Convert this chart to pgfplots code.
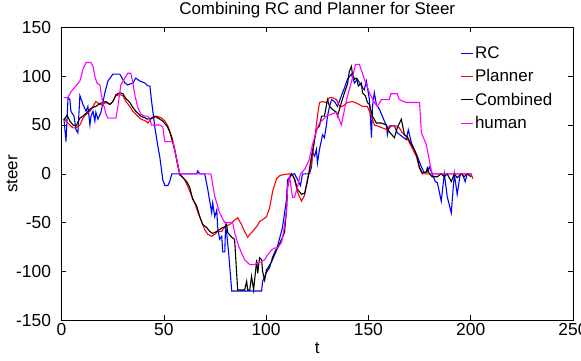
\documentclass[border=0pt]{standalone}
\usepackage{fontspec}
\setmainfont{Liberation Sans}
\usepackage{pgfplots}
\pgfplotsset{compat=1.18}
\definecolor{mblue}{RGB}{0,0,255}
\definecolor{mred}{RGB}{255,0,0}
\definecolor{mmag}{RGB}{255,0,255}
\begin{document}
\begin{tikzpicture}[font=\fontsize{17}{20}\selectfont]
\begin{axis}[
 name=ax,
 scale only axis,
 width=511.5bp, height=293bp,
 xmin=0, xmax=250, ymin=-150, ymax=150,
 xtick={0,50,...,250}, ytick={-150,-100,...,150},
 tick align=inside, major tick length=5bp,
 tick style={black, line width=0.6pt},
 axis line style={line width=0.6pt},
 /pgf/number format/assume math mode=true,
 ticklabel style={font=\fontsize{17.5}{20}\selectfont},
 yticklabel style={xshift=-7bp},
 title={Combining RC and Planner for Steer},
 xlabel={t}, ylabel={steer},
 ylabel style={at={(axis description cs:-0.097,0.5)}, anchor=center},
 every axis plot/.append style={line width=1.1pt},
 legend cell align=left,
 legend style={draw=none, fill=none, at={(0.779,0.941)}, anchor=north west,
   inner sep=0pt, outer sep=0pt, row sep=5.7bp, column sep=0pt,
   font=\fontsize{17}{20}\selectfont},
 legend image code/.code={\draw[#1, line width=1.1pt] (0bp,0bp) -- (12bp,0bp);},
]
\addlegendimage{mblue}
\addlegendentry{RC}
\addlegendimage{mred}
\addlegendentry{Planner}
\addlegendimage{black}
\addlegendentry{Combined}
\addlegendimage{mmag}
\addlegendentry{human}
% RC
\addplot[mblue, forget plot] coordinates {
(1.2,56) (2.2,33) (3.2,78) (4.1,76) (4.6,64) (6.1,59) (7.1,45) (8,42) (9,80) (10.5,71) (12,64) (12.9,69) (13.9,50) (14.4,59) (15.4,64) (16.3,54) (16.8,63) (17.8,56) (19.3,63) (21.2,83) (22.7,95) (25.1,102) (28.5,102) (31,93) (32.4,91) (34.9,93) (36.3,98) (38.3,95) (40.7,93) (42.2,90) (43.2,90) (44.1,73) (45.6,48) (47.1,28) (48,18) (49.5,-6) (50.5,-12) (52,-12) (52.9,-8) (53.9,0) (66.1,0) (66.6,3) (67.6,0) (70,0) (71.5,-16) (73.4,-40) (73.9,-30) (74.9,-44) (75.9,-37) (76.3,-54) (77.3,-67) (78.3,-64) (78.8,-80) (79.8,-80) (80.2,-54) (80.7,-60) (81.7,-81) (83.2,-120) (97.8,-120) (98.3,-110) (100.2,-101) (101.7,-96) (103.2,-85) (105.6,-74) (108,-55) (110,-26) (110.5,-6) (112.4,-1) (113.9,0) (115.4,-6) (116.8,-12) (117.8,0) (121.2,0) (122.2,7) (122.7,22) (123.7,18) (124.6,25) (125.1,11) (126.1,25) (127.1,35) (127.6,40) (128.5,37) (129.5,50) (130,59) (131,69) (132,76) (133.4,74) (134.9,69) (136.8,80) (138.3,88) (139.8,97) (141.7,102) (143.2,93) (144.6,97) (146.6,90) (148,86) (149,95) (150.5,76) (151.5,37) (152,69) (152.9,83) (153.9,71) (155.4,66) (156.8,59) (157.8,54) (158.8,49) (159.3,40) (160.2,49) (162.7,49) (164.1,42) (166.6,38) (168.5,35) (169.5,45) (171,32) (172.4,25) (173.9,18) (175.9,7) (177.3,1) (178.8,2) (179.8,7) (181.2,0) (182.7,-8) (183.7,-9) (185.6,-28) (187.1,0) (188.5,-23) (190.5,-40) (192,0) (193.4,-21) (194.9,0) (195.9,0) (197.3,-8) (198.3,0) (199.8,0)
};
% Planner
\addplot[mred, forget plot] coordinates {
(1.2,57) (2.2,54) (4.1,50) (5.6,47) (7.1,47) (9,50) (10.5,57) (12,61) (13.9,64) (15.4,69) (16.8,74) (18.8,71) (20.2,71) (21.7,73) (23.7,71) (25.1,74) (26.6,80) (28.5,81) (30,80) (31.5,74) (33.4,69) (34.9,64) (36.3,61) (38.8,56) (41.2,54) (42.2,52) (44.1,57) (46.6,59) (49,57) (50.5,54) (52,49) (53.9,38) (55.4,25) (56.8,8) (57.8,0) (60.2,-6) (61.7,-13) (63.7,-23) (65.1,-30) (66.6,-39) (68.5,-49) (70,-57) (71.5,-62) (73.4,-64) (74.9,-62) (76.3,-59) (78.3,-59) (79.8,-54) (82.2,-52) (83.7,-49) (86.1,-45) (88,-52) (89.5,-59) (91,-65) (92,-62) (93.4,-59) (95.4,-54) (96.8,-49) (98.3,-47) (100.2,-44) (101.7,-35) (103.2,-18) (105.1,-5) (106.6,-2) (108,-1) (111.5,0) (112.9,-1) (113.9,-6) (115.4,-19) (117.3,-28) (118.8,-22) (120.2,-5) (122.2,10) (123.7,35) (125.1,59) (126.1,73) (127.6,74) (129.5,73) (131,78) (132.4,78) (134.4,76) (135.9,69) (137.3,69) (139.8,73) (142.2,74) (144.6,72) (147.1,69) (149.5,69) (151.5,59) (152.9,50) (154.4,49) (156.8,47) (159.3,45) (161.2,49) (163.7,49) (165.1,47) (166.6,42) (168.5,38) (171,28) (173.4,18) (174.9,6) (176.3,0) (200.2,0) (201,-5)
};
% Combined
\addplot[black, forget plot] coordinates {
(1.2,55) (2.7,60) (4.1,54) (5.6,50) (7.1,49) (9,57) (10.5,59) (12,62) (13.9,66) (15.4,68) (16.8,69) (18.8,72) (20.2,73) (21.7,74) (23.7,71) (25.1,74) (26.6,81) (28.5,83) (30,82) (31.5,77) (33.4,73) (34.9,68) (36.3,64) (38.8,59) (41.2,57) (41.7,56) (44.1,57) (45.6,59) (48,56) (49.5,54) (51.5,49) (52.9,43) (54.4,32) (56.3,15) (57.8,-1) (59.3,-4) (61.2,-8) (62.7,-14) (64.1,-26) (66.1,-33) (67.6,-44) (69,-52) (71,-55) (72.4,-59) (73.9,-61) (75.9,-59) (77.3,-57) (78.8,-55) (80.2,-54) (80.7,-52) (81.2,-60) (83.2,-65) (84.6,-67) (86.1,-119) (89.5,-119) (90.5,-110) (91,-119) (92,-119) (92.9,-105) (93.9,-119) (95.4,-88) (95.9,-102) (96.8,-86) (97.8,-88) (98.3,-100) (99.3,-109) (100.2,-98) (100.7,-97) (102.7,-90) (104.1,-83) (105.6,-76) (107.6,-67) (109,-60) (110,-37) (110.5,-14) (111.5,-4) (112.4,0) (113.9,-5) (115.4,-16) (117.3,-21) (118.8,-20) (120.2,-8) (122.2,18) (123.7,35) (124.6,45) (126.1,49) (127.1,59) (128.5,59) (130,76) (131,69) (132.4,66) (134.4,63) (134.9,59) (136.8,73) (138.3,83) (139.8,92) (140.7,105) (141.7,110) (142.2,102) (143.2,97) (144.1,98) (145.1,90) (146.6,93) (147.1,83) (148.5,80) (149.5,73) (150.5,71) (152,59) (153.9,52) (156.3,52) (158.8,50) (160.2,43) (162.7,37) (164.1,47) (166.1,56) (167.6,40) (169,38) (171,30) (172.4,25) (173.9,17) (174.9,7) (176.3,1) (178.3,2) (178.8,6) (179.8,0) (181.2,-3) (183.7,-3) (185.6,0) (187.1,-3) (188.5,0) (190.5,-8) (192,0) (193.4,-4) (195.4,0) (196.8,-3) (198.3,0) (200.2,-3)
};
% human
\addplot[mmag, forget plot] coordinates {
(1,78) (3.2,78) (4.6,84) (7.1,90) (9,95) (10.5,107) (12,114) (14.4,114) (15.4,110) (16.3,100) (17.3,93) (18.8,91) (19.3,83) (20.2,73) (21.2,66) (21.7,61) (22.7,57) (26.6,57) (27.5,68) (29,91) (31,98) (32.4,103) (33.9,103) (34.9,93) (35.9,80) (37.3,68) (38.8,61) (40.7,59) (42.2,59) (43.2,55) (44,50) (48,50) (49.5,48) (50.5,33) (54.5,33) (57.8,0) (73,0) (74.9,-23) (77.3,-40) (79.8,-50) (83.7,-50) (84.6,-60) (86.6,-74) (88,-81) (89.5,-88) (92,-93) (94.4,-93) (95.9,-91) (97.8,-90) (99.3,-88) (100.7,-83) (102.7,-78) (104.1,-76) (105.6,-76) (107.6,-70) (108.5,-60) (110,-37) (110.5,-13) (111.5,-3) (112.9,-24) (113.9,-24) (115.4,-13) (116.8,0) (119,5) (121,14) (122.7,30) (124.6,44) (126.1,52) (129.5,59) (134.4,63) (136.8,50) (139.3,76) (141.7,94) (143.7,112) (145.6,112) (148,97) (150.5,83) (152.9,73) (154.4,69) (156.3,76) (160.2,76) (161,82) (164.1,82) (165.1,76) (168.5,73) (175,73) (175.9,42) (178.3,30) (180.7,4) (181.2,0) (200.2,0)
};
\end{axis}
\pgfresetboundingbox
\path ([shift={(-61.5bp,-40bp)}]ax.south west) rectangle ([shift={(8bp,27.3bp)}]ax.north east);
\end{tikzpicture}
\end{document}
